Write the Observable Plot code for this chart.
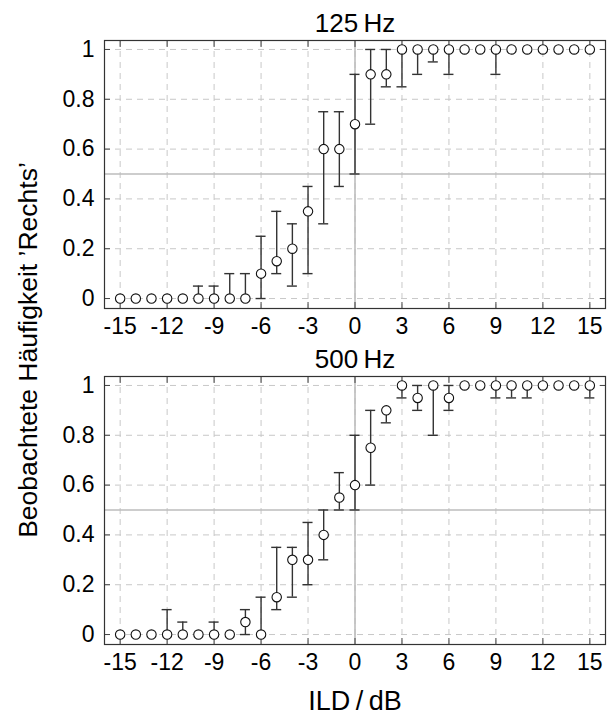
<!DOCTYPE html>
<html>
<head>
<meta charset="utf-8">
<script src="https://cdn.jsdelivr.net/npm/d3@7"></script>
<script src="https://cdn.jsdelivr.net/npm/@observablehq/plot@0.6"></script>
<style>
  html, body { margin: 0; padding: 0; background: #fff; }
  #wrap { position: relative; width: 611px; height: 717px; background: #fff; font-family: "Liberation Sans", sans-serif; color: #000; }
  .panel { position: absolute; left: 0; }
  #ylabel { position: absolute; left: 28px; top: 350px; white-space: nowrap; font-size: 26.5px;
            transform: translate(-50%, -50%) rotate(-90deg); }
  #xlabel { position: absolute; left: 355px; top: 701px; white-space: nowrap; font-size: 27px;
            transform: translate(-50%, -50%); }
</style>
</head>
<body>
<div id="wrap">
  <div id="p1" class="panel" style="top:0px"></div>
  <div id="p2" class="panel" style="top:336px"></div>
  <div id="ylabel">Beobachtete Häufigkeit ’Rechts’</div>
  <div id="xlabel">ILD&#8201;/&#8201;dB</div>
</div>
<script>
// ILD values (dB)
const ild = [-15,-14,-13,-12,-11,-10,-9,-8,-7,-6,-5,-4,-3,-2,-1,0,1,2,3,4,5,6,7,8,9,10,11,12,13,14,15];

// 125 Hz: observed frequency, lower and upper bounds
const y125  = [0,0,0,0,0,0,0,0,0,0.10,0.15,0.20,0.35,0.60,0.60,0.70,0.90,0.90,1,1,1,1,1,1,1,1,1,1,1,1,1];
const lo125 = [0,0,0,0,0,0,0,0,0,0.00,0.10,0.05,0.10,0.30,0.45,0.50,0.70,0.85,0.85,0.90,0.95,0.90,1,1,0.90,1,1,1,1,1,1];
const hi125 = [0,0,0,0,0,0.05,0.05,0.10,0.10,0.25,0.35,0.30,0.45,0.75,0.75,0.90,1,1,1,1,1,1,1,1,1,1,1,1,1,1,1];

// 500 Hz
const y500  = [0,0,0,0,0,0,0,0,0.05,0,0.15,0.30,0.30,0.40,0.55,0.60,0.75,0.90,1,0.95,1,0.95,1,1,1,1,1,1,1,1,1];
const lo500 = [0,0,0,0,0,0,0,0,0.00,0,0.10,0.15,0.20,0.30,0.50,0.50,0.60,0.85,0.95,0.90,0.80,0.90,1,1,0.95,0.95,0.95,1,1,1,0.95];
const hi500 = [0,0,0,0.10,0.05,0,0.05,0,0.10,0.15,0.35,0.35,0.45,0.50,0.65,0.80,0.90,0.90,1,1,1,1,1,1,1,1,1,1,1,1,1];

const titles = ["125\u2009Hz", "500\u2009Hz"];
const xTicks = [-15,-12,-9,-6,-3,0,3,6,9,12,15];
const yTicks = [0,0.2,0.4,0.6,0.8,1];

const xDomain = [-16, 16];
const yDomain = [-0.04, 1.036];
const capHalf = 0.32;
const fam = "'Liberation Sans', sans-serif";

function rows(ys, los, his) {
  return ild.map((x, i) => ({x, y: ys[i], lo: los[i], hi: his[i]}));
}

function fmtX(d) { return d < 0 ? "-" + Math.abs(d) : String(d); }
function fmtY(d) { return d === 0 ? "0" : d === 1 ? "1" : String(d); }

function panel(data, title) {
  const bars = data.filter(d => d.hi > d.lo);
  const lowCaps = data.filter(d => d.lo < d.y);
  const highCaps = data.filter(d => d.hi > d.y);
  return Plot.plot({
    width: 611, height: 340,
    marginLeft: 104, marginRight: 6, marginTop: 40, marginBottom: 32,
    style: {fontFamily: fam, fontSize: "23px", color: "#000", background: "transparent", overflow: "visible"},
    x: {domain: xDomain, axis: null},
    y: {domain: yDomain, axis: null},
    marks: [
      Plot.gridX(xTicks, {stroke: "#c8c8c8", strokeOpacity: 1, strokeDasharray: "6,5"}),
      Plot.gridY(yTicks, {stroke: "#c8c8c8", strokeOpacity: 1, strokeDasharray: "6,5"}),
      Plot.ruleX([0], {stroke: "#bdbdbd", strokeWidth: 1.6}),
      Plot.ruleY([0.5], {stroke: "#bdbdbd", strokeWidth: 1.6}),
      // inward ticks on all four sides
      Plot.axisX(xTicks, {anchor: "bottom", tickSize: 6, dy: -6, fill: "none", label: null, stroke: "#444"}),
      Plot.axisX(xTicks, {anchor: "top", tickSize: 6, dy: 6, fill: "none", label: null, stroke: "#444"}),
      Plot.axisY(yTicks, {anchor: "left", tickSize: 6, dx: 6, fill: "none", label: null, stroke: "#444"}),
      Plot.axisY(yTicks, {anchor: "right", tickSize: 6, dx: -6, fill: "none", label: null, stroke: "#444"}),
      // tick labels
      Plot.axisX(xTicks, {anchor: "bottom", tickSize: 0, tickPadding: 9, tickFormat: fmtX, label: null, fontSize: 23}),
      Plot.axisY(yTicks, {anchor: "left", tickSize: 0, tickPadding: 10, tickFormat: fmtY, label: null, fontSize: 23}),
      Plot.frame({stroke: "#333", strokeWidth: 1.2}),
      // error bars
      Plot.ruleX(bars, {x: "x", y1: "lo", y2: "hi", stroke: "#333", strokeWidth: 1.4}),
      Plot.ruleY(lowCaps, {y: "lo", x1: d => d.x - capHalf, x2: d => d.x + capHalf, stroke: "#333", strokeWidth: 1.4}),
      Plot.ruleY(highCaps, {y: "hi", x1: d => d.x - capHalf, x2: d => d.x + capHalf, stroke: "#333", strokeWidth: 1.4}),
      Plot.dot(data, {x: "x", y: "y", r: 4.7, fill: "white", stroke: "#111", strokeWidth: 1.1}),
      Plot.text([title], {frameAnchor: "top", dy: -9, lineAnchor: "bottom", fontSize: 26, fill: "#000"})
    ]
  });
}

document.getElementById("p1").appendChild(panel(rows(y125, lo125, hi125), titles[0]));
document.getElementById("p2").appendChild(panel(rows(y500, lo500, hi500), titles[1]));
</script>
</body>
</html>
